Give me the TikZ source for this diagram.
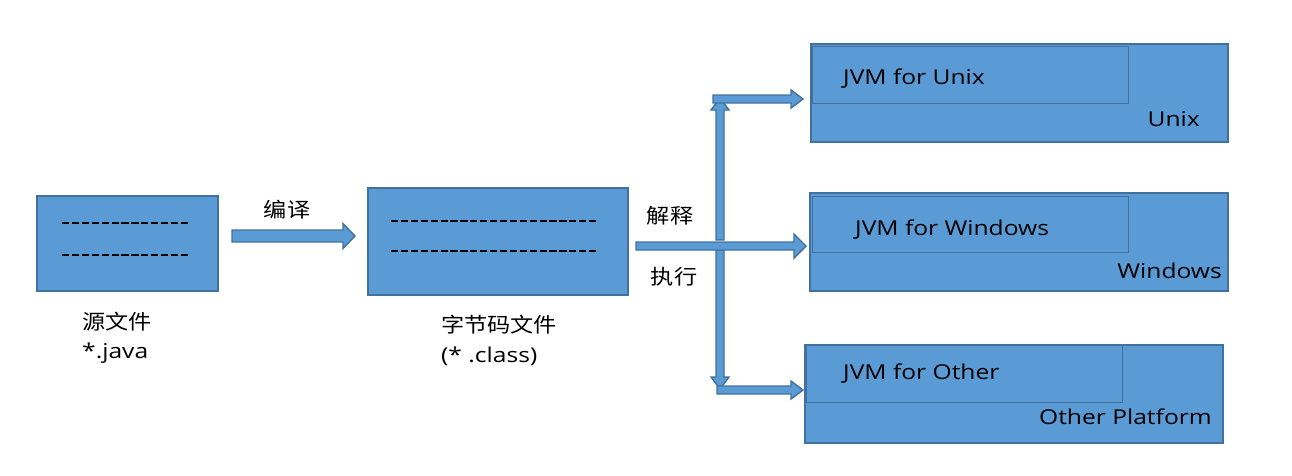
\documentclass[tikz,border=0pt]{standalone}
\usepackage{fontspec}
\setmainfont{Open Sans}[FakeStretch=1.2]
\newfontfamily\cjk{Noto Sans CJK SC}[FakeStretch=1.13]
\definecolor{boxfill}{HTML}{5B9BD5}
\definecolor{boxline}{HTML}{41719C}
\tikzset{
  box/.style={draw=boxline, fill=boxfill, line width=1.8pt, inner sep=0pt},
  inner/.style={draw=boxline, fill=boxfill, line width=1.4pt, inner sep=0pt},
  blk/.style={draw=boxline, fill=boxfill, line width=1.4pt, line join=miter},
  dline/.style={black, line width=1.3pt, dash pattern=on 7.2pt off 2.7pt},
  lbl/.style={inner sep=0pt, font=\fontsize{20.5}{24}\selectfont},
  zh/.style={inner sep=0pt, font=\cjk\fontsize{20.5}{24}\selectfont},
}
% horizontal block arrow: x1, x2 (tip), y, shaft half, head half, head length
\newcommand{\harr}[6]{\path[blk] (#1,#3-#4) -- (#2-#6,#3-#4) -- (#2-#6,#3-#5) -- (#2,#3) -- (#2-#6,#3+#5) -- (#2-#6,#3+#4) -- (#1,#3+#4) -- cycle;}
% vertical block arrow: x, y1 (tail), y2 (tip), shaft half, head half, head length, direction sign (+1 down, -1 up)
\newcommand{\varr}[7]{\path[blk] (#1-#4,#2) -- (#1-#4,#3-#7*#6) -- (#1-#5,#3-#7*#6) -- (#1,#3) -- (#1+#5,#3-#7*#6) -- (#1+#4,#3-#7*#6) -- (#1+#4,#2) -- cycle;}
\begin{document}
\begin{tikzpicture}[x=1pt,y=-1pt]
\useasboundingbox (0,0) rectangle (1292,475);
% source file
\node[box, minimum width=181pt, minimum height=95pt, anchor=north west] (src) at (36,195) {};
\draw[dline] (62,223) -- (188,223);
\draw[dline] (62,255) -- (188,255);
\node[zh, anchor=west] (srclbl) at (82,322) {源文件};
\node[lbl, anchor=base west] (srcext) at (82,358) {*.java};
% bytecode file
\node[box, minimum width=260pt, minimum height=107pt, anchor=north west] (cls) at (367,187) {};
\draw[dline] (391,221) -- (596.2,221);
\draw[dline] (391,251) -- (596.2,251);
\node[zh, anchor=west] (clslbl) at (441,325) {字节码文件};
\node[lbl, anchor=base west] (clsext) at (441,362) {(* .class)};
% compile arrow
\harr{232}{355}{236}{6}{12.5}{12}
\node[zh] (bianyi) at (287,210) {编译};
% JVM platforms
\node[box, minimum width=417pt, minimum height=98pt, anchor=north west] (unix) at (810,43) {};
\node[inner, minimum width=316pt, minimum height=57pt, anchor=north west] (junix) at (812,46) {};
\node[lbl, anchor=base west] at (843,84) {JVM for Unix};
\node[lbl, anchor=base east] at (1200,126) {Unix};

\node[box, minimum width=418pt, minimum height=98pt, anchor=north west] (win) at (809,192) {};
\node[inner, minimum width=316pt, minimum height=56pt, anchor=north west] (jwin) at (812,196) {};
\node[lbl, anchor=base west] at (855,235) {JVM for Windows};
\node[lbl, anchor=base east] at (1222,278) {Windows};

\node[box, minimum width=418pt, minimum height=98pt, anchor=north west] (oth) at (804,344) {};
\node[inner, minimum width=316pt, minimum height=57pt, anchor=north west] (joth) at (806,345) {};
\node[lbl, anchor=base west] at (843,379) {JVM for Other};
\node[lbl, anchor=base east] at (1212,424) {Other Platform};
% execute arrows
\varr{720}{240}{98}{4}{9}{12}{-1}
\varr{720}{250}{389}{4}{9}{12}{1}
\harr{713}{803}{99}{4}{9}{12}
\harr{717}{803}{390}{4}{9}{12}
\harr{636}{806}{246}{4}{12}{12}
\node[zh] (jieshi) at (670,216) {解释};
\node[zh] (zhixing) at (674,277) {执行};
\end{tikzpicture}
\end{document}
